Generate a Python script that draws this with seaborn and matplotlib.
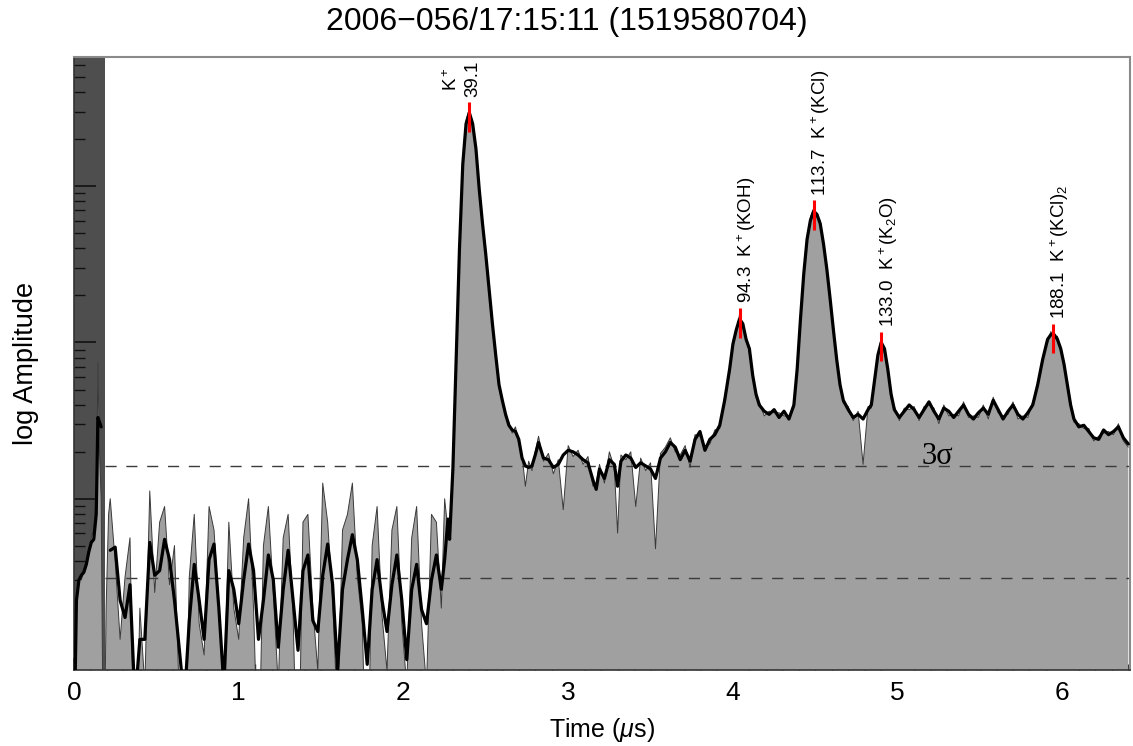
import numpy as np
import pandas as pd
import matplotlib
matplotlib.use("Agg")
import matplotlib.pyplot as plt
import seaborn as sns
from matplotlib.ticker import MultipleLocator, LogLocator, NullFormatter

title = "2006\u2212056/17:15:11 (1519580704)"

# time axis (microseconds) and log10 amplitude
time_us = [
    0.000, 0.015, 0.030, 0.045, 0.060, 0.075, 0.090, 0.105, 0.120, 0.135, 0.140, 0.145, 0.155, 0.165, 0.180, 0.195, 0.210,
    0.22, 0.25, 0.28, 0.31, 0.34, 0.37, 0.40, 0.43, 0.46, 0.49, 0.52, 0.55, 0.58, 0.61, 0.64, 0.67, 0.70, 0.73, 0.76, 0.79,
    0.82, 0.85, 0.88, 0.91, 0.94, 0.97, 1.00, 1.03, 1.06, 1.09, 1.12, 1.15, 1.18, 1.21, 1.24, 1.27, 1.30, 1.33, 1.36, 1.39,
    1.42, 1.45, 1.48, 1.51, 1.54, 1.57, 1.60, 1.63, 1.66, 1.69, 1.72, 1.75, 1.78, 1.81, 1.84, 1.87, 1.90, 1.93, 1.96, 1.99,
    2.02, 2.05, 2.08, 2.11, 2.14, 2.17, 2.20, 2.23, 2.25, 2.27,
    2.28, 2.30, 2.32, 2.34, 2.36, 2.38, 2.40, 2.42, 2.44, 2.46, 2.48, 2.50, 2.52, 2.54, 2.56, 2.58, 2.60, 2.62, 2.64, 2.66,
    2.68, 2.70, 2.72, 2.74, 2.76, 2.78, 2.80, 2.82, 2.85, 2.88, 2.91, 2.94, 2.97, 3.00, 3.03, 3.06, 3.09, 3.12, 3.15, 3.17,
    3.19, 3.22, 3.25, 3.28, 3.30, 3.32, 3.35, 3.38, 3.41, 3.44, 3.47, 3.50, 3.53, 3.56, 3.59, 3.62, 3.65, 3.68, 3.71, 3.74,
    3.77, 3.80, 3.83, 3.86, 3.89, 3.92, 3.95, 3.98, 4.00, 4.02, 4.04, 4.06, 4.08, 4.10, 4.12, 4.14, 4.16, 4.19, 4.22, 4.25,
    4.28, 4.31, 4.34, 4.37, 4.39, 4.41, 4.43, 4.45, 4.47, 4.49, 4.51, 4.53, 4.55, 4.57, 4.59, 4.61, 4.63, 4.65, 4.67, 4.70,
    4.73, 4.76, 4.79, 4.82, 4.84, 4.86, 4.88, 4.90, 4.92, 4.94, 4.96, 4.98, 5.01, 5.04, 5.07, 5.10, 5.13, 5.16, 5.19, 5.22,
    5.25, 5.28, 5.31, 5.34, 5.37, 5.40, 5.43, 5.46, 5.49, 5.52, 5.55, 5.58, 5.61, 5.64, 5.67, 5.70, 5.73, 5.76, 5.79, 5.82,
    5.85, 5.88, 5.91, 5.93, 5.95, 5.97, 5.99, 6.01, 6.03, 6.05, 6.07, 6.10, 6.13, 6.16, 6.19, 6.22, 6.25, 6.28, 6.31, 6.34,
    6.37, 6.40,
]

log_smooth = [
    -0.60, 0.35, 0.48, 0.51, 0.53, 0.58, 0.66, 0.72, 0.74, 0.90, 1.19, 1.52, 1.49, 1.46, None, None, None,
    0.67, 0.69, 0.35, 0.24, 0.45, -0.30, 0.10, 0.10, 0.72, 0.51, 0.54, 0.74, 0.61, 0.35, 0.03, -0.30, 0.22, 0.58, 0.35, 0.10,
    0.61, 0.71, 0.29, -0.20, 0.54, 0.42, 0.20, 0.48, 0.71, 0.54, 0.10, 0.35, 0.64, 0.48, 0.05, 0.42, 0.67, 0.35, 0.03, 0.54,
    0.64, 0.22, 0.15, 0.51, 0.71, 0.45, -0.10, 0.42, 0.61, 0.77, 0.61, 0.29, -0.06, 0.42, 0.61, 0.35, 0.15, 0.45, 0.64, 0.35,
    -0.03, 0.42, 0.58, 0.29, 0.20, 0.48, 0.64, 0.42, 0.61, 0.87,
    0.74, 1.19, 1.89, 2.60, 3.14, 3.40, 3.47, 3.40, 3.24, 2.98, 2.76, 2.56, 2.34, 2.12, 1.92, 1.73, 1.63, 1.54, 1.47, 1.44,
    1.43, 1.38, 1.26, 1.21, 1.20, 1.21, 1.28, 1.36, 1.26, 1.25, 1.20, 1.22, 1.28, 1.31, 1.30, 1.28, 1.25, 1.23, 1.12, 1.06,
    1.19, 1.13, 1.25, 1.22, 1.08, 1.24, 1.28, 1.26, 1.20, 1.23, 1.21, 1.19, 1.13, 1.26, 1.30, 1.36, 1.33, 1.25, 1.31, 1.24,
    1.38, 1.43, 1.31, 1.38, 1.41, 1.47, 1.63, 1.83, 1.99, 2.08, 2.15, 2.12, 2.02, 1.96, 1.79, 1.67, 1.60, 1.56, 1.54, 1.57,
    1.52, 1.56, 1.51, 1.60, 1.83, 2.15, 2.44, 2.66, 2.78, 2.84, 2.82, 2.76, 2.63, 2.47, 2.28, 2.08, 1.89, 1.73, 1.63, 1.57,
    1.52, 1.54, 1.51, 1.57, 1.60, 1.76, 1.92, 2.00, 1.96, 1.83, 1.67, 1.57, 1.52, 1.56, 1.60, 1.57, 1.52, 1.57, 1.62, 1.56,
    1.51, 1.58, 1.56, 1.52, 1.56, 1.60, 1.54, 1.51, 1.55, 1.58, 1.54, 1.63, 1.57, 1.51, 1.56, 1.60, 1.54, 1.51, 1.55, 1.60,
    1.73, 1.89, 2.02, 2.05, 2.05, 2.02, 1.96, 1.86, 1.73, 1.60, 1.51, 1.46, 1.47, 1.43, 1.39, 1.38, 1.44, 1.41, 1.43, 1.46,
    1.39, 1.35,
]

log_raw = [
    -0.60, 0.30, 0.50, 0.48, 0.55, 0.60, 0.64, 0.75, 0.80, 1.00, 1.30, 1.87, 1.30, 1.00, -1.00, 0.30, 0.90,
    1.00, 0.60, 0.10, 0.50, 0.75, -1.00, 0.30, -0.20, 1.05, 0.40, 0.85, 0.95, 0.45, 0.70, -0.30, -1.00, 0.50, 0.90, 0.20, 0.00,
    0.95, 0.80, 0.30, -0.30, 0.85, 0.30, 0.10, 0.75, 1.00, 0.30, -0.80, 0.70, 0.95, 0.40, -0.20, 0.75, 0.90, 0.25, -1.00, 0.85,
    0.90, 0.30, -0.10, 1.10, 0.85, 0.35, -0.40, 0.80, 0.90, 1.10, 0.50, 0.20, -1.00, 0.70, 0.95, 0.25, -0.10, 0.80, 0.95, 0.20,
    -0.20, 0.75, 0.95, 0.20, -0.20, 0.90, 0.85, 0.30, 1.00, 0.80,
    0.80, 1.22, 1.92, 2.62, 3.16, 3.42, 3.50, 3.38, 3.26, 2.96, 2.78, 2.55, 2.36, 2.10, 1.94, 1.71, 1.65, 1.52, 1.49, 1.42,
    1.46, 1.36, 1.28, 1.08, 1.24, 1.18, 1.30, 1.40, 1.24, 1.29, 1.16, 1.25, 0.93, 1.34, 1.27, 1.31, 1.22, 1.27, 1.08, 1.10,
    1.22, 1.10, 1.30, 1.20, 0.78, 1.28, 1.25, 1.30, 0.95, 1.26, 1.18, 1.23, 0.68, 1.29, 1.33, 1.39, 1.30, 1.28, 1.34, 1.20,
    1.41, 1.40, 1.34, 1.35, 1.44, 1.45, 1.66, 1.80, 2.01, 2.06, 2.18, 2.10, 2.04, 1.93, 1.81, 1.65, 1.62, 1.53, 1.56, 1.55,
    1.55, 1.53, 1.53, 1.58, 1.85, 2.13, 2.46, 2.64, 2.80, 2.86, 2.80, 2.78, 2.61, 2.49, 2.26, 2.10, 1.87, 1.75, 1.61, 1.59,
    1.50, 1.56, 1.22, 1.59, 1.58, 1.78, 1.90, 2.03, 1.93, 1.85, 1.64, 1.59, 1.50, 1.58, 1.57, 1.59, 1.50, 1.59, 1.60, 1.58,
    1.48, 1.60, 1.53, 1.54, 1.53, 1.62, 1.52, 1.53, 1.52, 1.60, 1.51, 1.65, 1.55, 1.53, 1.54, 1.62, 1.51, 1.53, 1.52, 1.62,
    1.71, 1.91, 2.00, 2.07, 2.03, 2.04, 1.94, 1.88, 1.71, 1.62, 1.49, 1.48, 1.45, 1.45, 1.37, 1.40, 1.42, 1.43, 1.41, 1.48,
    1.37, 1.33,
]

# identified peaks (mass labels)
peak_time = [2.40, 4.04, 4.49, 4.90, 5.94]
peak_log = [3.47, 2.15, 2.84, 2.00, 2.05]
peak_labels = ["K$^+$\n39.1", "94.3  K$^+$(KOH)", "113.7  K$^+$(KCl)",
               "133.0  K$^+$(K$_2$O)", "188.1  K$^+$(KCl)$_2$"]

# noise levels (log amplitude) and dead-time window
noise_log = [1.21, 0.49]
dead_time_us = 0.19

sns.set_style("white")
plt.rcParams["font.family"] = ["Liberation Sans", "DejaVu Sans"]
plt.rcParams["mathtext.fontset"] = "custom"
plt.rcParams["mathtext.rm"] = "Liberation Sans"
plt.rcParams["mathtext.it"] = "Liberation Sans:italic"
plt.rcParams["text.color"] = "black"
plt.rcParams["axes.labelcolor"] = "black"
plt.rcParams["xtick.color"] = "black"
plt.rcParams["ytick.color"] = "black"

df = pd.DataFrame({"time": time_us,
                   "smooth": pd.to_numeric(pd.Series(log_smooth), errors="coerce"),
                   "raw": log_raw})
df["amp_smooth"] = 10 ** df["smooth"]
df["amp_raw"] = 10 ** df["raw"]
df["seg"] = df["smooth"].isna().cumsum()
df_s = df.dropna(subset=["amp_smooth"])

fig = plt.figure(figsize=(11.33, 7.46), dpi=100)
ax = fig.add_axes([0.0653, 0.1019, 0.932, 0.8217])
ax.set_yscale("log")

ax.axvspan(0, dead_time_us, color="#4e4e4e", lw=0, zorder=0)
ax.fill_between(df["time"], 1e-3, df["amp_raw"], color="#a0a0a0", lw=0, zorder=1)
sns.lineplot(data=df, x="time", y="amp_raw", color="#3a3a3a", lw=0.7,
             estimator=None, sort=False, ax=ax, zorder=2)
for lv in noise_log:
    ax.hlines(10 ** lv, dead_time_us, 6.41, colors="#3a3a3a", lw=1.0,
              linestyles=(0, (8, 7)), zorder=2.5)
sns.lineplot(data=df_s, x="time", y="amp_smooth", units="seg", color="black",
             lw=2.3, estimator=None, sort=False, ax=ax, zorder=3)

pk = 10 ** np.array(peak_log)
ax.vlines(peak_time, pk * 10 ** -0.12, pk * 10 ** 0.07, colors="red", lw=2.2, zorder=4)
for i, (t, a, lab) in enumerate(zip(peak_time, pk, peak_labels)):
    dx = -0.045 if i == 0 else 0.045
    ax.text(t + dx, a * 10 ** 0.1, lab, rotation=90, ha="center", va="bottom",
            fontsize=13.5, zorder=5)

ax.text(5.24, 10 ** (noise_log[0] + 0.01), "3\u03c3", family=["Liberation Serif", "DejaVu Serif"],
        fontsize=22, ha="center", va="baseline")

ax.set_xlim(0, 6.41)
ax.set_ylim(10 ** -0.096, 10 ** 3.827)
ax.xaxis.set_major_locator(MultipleLocator(1))
ax.xaxis.set_minor_locator(MultipleLocator(0.1))
ax.yaxis.set_major_locator(LogLocator(base=10))
ax.yaxis.set_minor_locator(LogLocator(base=10, subs=np.arange(2, 10)))
ax.yaxis.set_major_formatter(NullFormatter())
ax.yaxis.set_minor_formatter(NullFormatter())
ax.tick_params(axis="x", which="major", direction="in", length=9, width=1.2, labelsize=19, pad=8, color="#111111")
ax.tick_params(axis="x", which="minor", direction="in", length=4.5, width=1.0, color="#111111")
ax.tick_params(axis="y", which="major", direction="in", length=16, width=1.2, color="#111111")
ax.tick_params(axis="y", which="minor", direction="in", length=8, width=1.0, color="#111111")
ax.tick_params(which="both", left=True, bottom=True, top=False, right=False)

for s in ["top", "right"]:
    ax.spines[s].set_color("#8a8a8a")
    ax.spines[s].set_linewidth(1.5)
for s in ["left", "bottom"]:
    ax.spines[s].set_color("#333333")
    ax.spines[s].set_linewidth(1.2)

ax.set_xlabel("Time ($\\mu$s)", fontsize=18, labelpad=8)
ax.set_ylabel("log Amplitude", fontsize=19.5)
ax.yaxis.set_label_coords(-0.033, 0.5)
fig.suptitle(title, x=0.5, y=0.97, va="center", fontsize=23)

fig.savefig("out.png", dpi=100)
